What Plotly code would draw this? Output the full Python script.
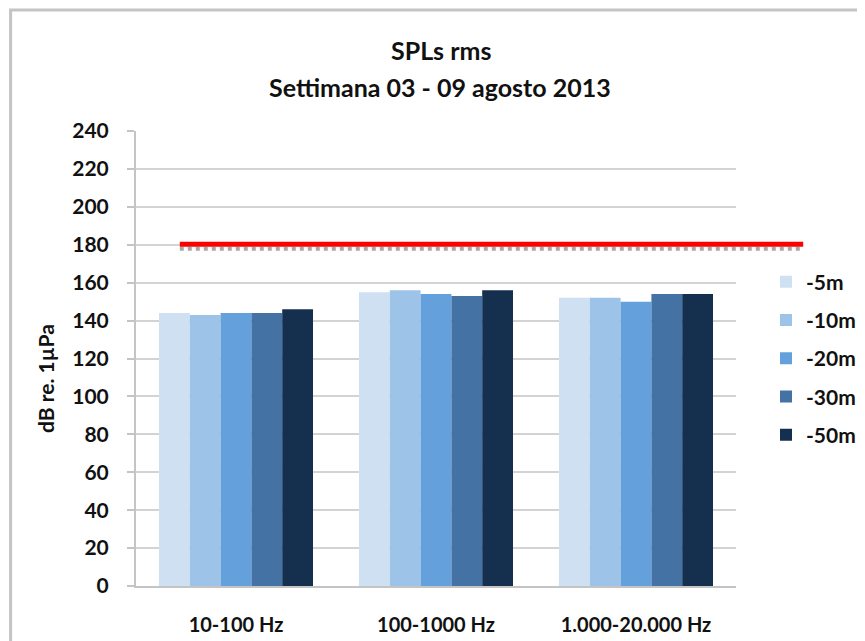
import plotly.graph_objects as go

categories = ["10-100 Hz", "100-1000 Hz", "1.000-20.000 Hz"]
series_names = ["-5m", "-10m", "-20m", "-30m", "-50m"]
values_5m = [144, 155, 152]
values_10m = [143, 156, 152]
values_20m = [144, 154, 150]
values_30m = [144, 153, 154]
values_50m = [146, 156, 154]
threshold = 180
y_ticks = list(range(0, 241, 20))
title_lines = ["SPLs rms", "Settimana 03 - 09 agosto 2013"]
y_title = "dB re. 1µPa"

series_values = [values_5m, values_10m, values_20m, values_30m, values_50m]
colors = ["#cfe0f3", "#9dc3e8", "#64a0dc", "#4472a4", "#15304f"]

font_family = "Lato, 'Open Sans', sans-serif"
txt = "#111111"

fig = go.Figure()
for name, vals, col in zip(series_names, series_values, colors):
    fig.add_trace(go.Bar(
        x=categories, y=vals, name="<b>" + name + "</b>", legendgroup=name,
        marker=dict(color=col, line=dict(width=0)),
    ))

# threshold line shadow + red line
fig.add_shape(type="line", xref="paper", yref="y", x0=0.073, x1=1.112,
              y0=threshold - 2.1, y1=threshold - 2.1,
              line=dict(color="#a8a8a8", width=4, dash="dot"), layer="above")
fig.add_shape(type="line", xref="paper", yref="y", x0=0.073, x1=1.112,
              y0=threshold + 0.3, y1=threshold + 0.3,
              line=dict(color="#ff0000", width=5), layer="above")

# chart border
fig.add_shape(type="rect", xref="paper", yref="paper", x0=-0.209, x1=1.3,
              y0=-0.3, y1=1.266, line=dict(color="#c4c4c4", width=3), layer="below")

# title
fig.add_annotation(text="<b>" + title_lines[0] + "</b>", xref="paper", yref="paper",
                   x=0.509, y=1.178, xanchor="center", yanchor="middle", showarrow=False,
                   font=dict(family=font_family, size=25, color=txt))
fig.add_annotation(text="<b>" + title_lines[1] + "</b>", xref="paper", yref="paper",
                   x=0.507, y=1.097, xanchor="center", yanchor="middle", showarrow=False,
                   font=dict(family=font_family, size=25, color=txt))
# y-axis title
fig.add_annotation(text="<b>" + y_title + "</b>", xref="paper", yref="paper",
                   x=-0.150, y=0.455, xanchor="center", yanchor="middle", showarrow=False,
                   textangle=-90, font=dict(family=font_family, size=21, color=txt))

fig.update_layout(
    width=865, height=641,
    margin=dict(l=128, r=130, t=123, b=63),
    paper_bgcolor="white", plot_bgcolor="white",
    barmode="group", bargap=0.23, bargroupgap=0,
    font=dict(family=font_family, color=txt),
    legend=dict(x=1.05, xanchor="left", y=0.50, yanchor="middle",
                font=dict(family=font_family, size=21, color=txt),
                traceorder="grouped", tracegroupgap=8, itemsizing="constant",
                bgcolor="rgba(0,0,0,0)"),
    showlegend=True,
)
fig.update_xaxes(
    showgrid=False, showline=True, linecolor="#c4c4c4", linewidth=2,
    tickfont=dict(family=font_family, size=20, color=txt),
    ticks="", ticklabelstandoff=20,
    tickvals=categories, ticktext=[f"<b>{c}</b>" for c in categories],
)
fig.update_yaxes(
    range=[0, 240], tickvals=y_ticks, ticktext=[f"<b>{v}</b>" for v in y_ticks],
    showgrid=True, gridcolor="#d3d3d3", gridwidth=2,
    showline=True, linecolor="#c4c4c4", linewidth=2, zeroline=False,
    ticks="outside", ticklen=7, tickcolor="#c4c4c4", tickwidth=2,
    tickfont=dict(family=font_family, size=21, color=txt),
    ticklabelstandoff=14,
)

fig.write_html("out.html")
